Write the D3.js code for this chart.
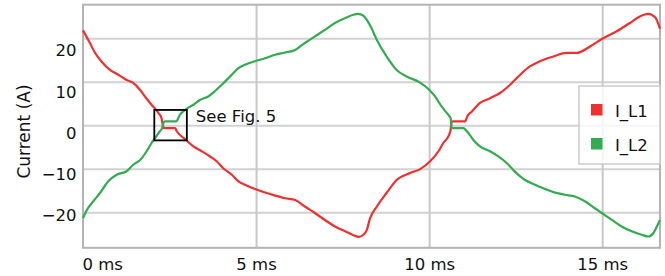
<!DOCTYPE html>
<html>
<head>
<meta charset="utf-8">
<script src="https://cdn.jsdelivr.net/npm/d3@7"></script>
<style>
  html, body { margin: 0; padding: 0; background: #fff; }
  svg { display: block; font-family: "DejaVu Sans", sans-serif; }
</style>
</head>
<body>
<div id="chart"></div>
<script>
// Phase currents over one period (time in ms, current in A)
const timeL1 = [0, 0.2, 0.35, 0.54, 0.78, 1.02, 1.26, 1.45, 1.65, 1.79, 1.98, 2.18, 2.27, 2.31, 2.34, 2.66, 2.71, 2.98, 3.19, 3.43, 3.67, 3.86, 4.05, 4.3, 4.49, 4.68, 4.97, 5.26, 5.55, 5.84, 6.13, 6.41, 6.7, 6.99, 7.28, 7.57, 7.81, 7.97, 8.1, 8.2, 8.29, 8.49, 8.77, 9.06, 9.45, 9.74, 10.03, 10.27, 10.41, 10.58, 10.62, 10.65, 10.69, 11.04, 11.1, 11.23, 11.47, 11.76, 12.05, 12.34, 12.63, 12.91, 13.2, 13.59, 13.98, 14.26, 14.65, 15.03, 15.42, 15.8, 16.09, 16.33, 16.53, 16.67];
const currentL1 = [21.8, 18.9, 16.6, 14.6, 12.7, 11.6, 10.4, 9.7, 8.1, 6.6, 4.7, 2.8, 1.6, -0.1, -0.7, -0.7, -1.4, -3.4, -4.9, -6.0, -7.2, -8.3, -9.9, -11.4, -12.9, -13.7, -14.7, -15.5, -16.2, -16.8, -17.2, -18.7, -20.2, -21.8, -23.3, -24.4, -25.3, -25.7, -25.2, -24.1, -21.5, -18.7, -15.6, -12.6, -11.0, -10.1, -8.3, -6.0, -4.1, -2.2, -1.1, 0.8, 0.85, 0.85, 2.0, 3.1, 5.1, 6.2, 7.4, 9.3, 11.6, 13.5, 14.7, 15.8, 16.6, 16.6, 18.1, 20.0, 21.6, 23.5, 25.0, 25.6, 24.8, 22.2];

const timeL2 = [0, 0.11, 0.3, 0.49, 0.73, 0.97, 1.26, 1.45, 1.65, 1.84, 1.98, 2.08, 2.22, 2.28, 2.33, 2.37, 2.69, 2.8, 2.98, 3.19, 3.38, 3.62, 3.81, 4.01, 4.2, 4.3, 4.49, 4.68, 4.97, 5.26, 5.55, 5.84, 6.13, 6.41, 6.7, 6.99, 7.28, 7.57, 7.81, 7.95, 8.1, 8.2, 8.34, 8.49, 8.77, 9.06, 9.35, 9.74, 9.98, 10.17, 10.36, 10.55, 10.62, 10.65, 10.7, 10.99, 11.09, 11.28, 11.47, 11.76, 12.0, 12.24, 12.43, 12.63, 12.77, 13.06, 13.35, 13.64, 13.93, 14.21, 14.5, 14.79, 14.99, 15.28, 15.56, 15.85, 16.14, 16.33, 16.48, 16.58, 16.67];
const currentL2 = [-21.4, -19.5, -17.5, -15.6, -12.9, -11.4, -10.6, -9.1, -8.0, -6.0, -4.1, -3.0, -1.4, -0.8, 0.55, 0.85, 0.85, 2.4, 3.7, 4.7, 5.8, 6.6, 7.8, 9.3, 10.8, 11.6, 13.1, 13.9, 14.7, 15.4, 16.2, 16.7, 17.3, 18.9, 20.4, 21.9, 23.5, 24.6, 25.4, 25.6, 25.2, 24.2, 22.2, 19.6, 15.8, 12.7, 11.2, 9.8, 8.3, 6.6, 4.3, 2.4, 1.6, -0.5, -0.7, -0.7, -1.4, -3.4, -4.9, -6.0, -7.2, -8.7, -10.3, -11.8, -12.6, -13.7, -14.7, -15.5, -16.0, -16.4, -17.5, -19.1, -20.2, -21.8, -23.3, -24.4, -25.2, -25.6, -24.8, -23.3, -21.8];

const seriesNames = ["I_L1", "I_L2"];
const seriesColours = ["#f0302f", "#33ab50"];

const xTicks = [0, 5, 10, 15];
const yTicks = [-20, -10, 0, 10, 20];

// Zoomed region marked on the plot (ms, A)
const boxTime = [2.06, 3.0];
const boxCurrent = [-3.5, 3.5];
const boxLabel = "See Fig. 5";

// Display options
const width = 665;
const height = 276;
const plot = { left: 83, right: 660, top: 4.7, bottom: 247.8 };
const fontSize = 16.5;

const series = seriesNames.map((name, i) => ({
  name,
  colour: seriesColours[i],
  values: (i === 0 ? timeL1 : timeL2).map((t, j) => ({
    t,
    v: (i === 0 ? currentL1 : currentL2)[j],
  })),
}));

// Scales
const xScale = d3.scaleLinear().domain([0, 16.67]).range([plot.left, plot.right]);
const yScale = d3.scaleLinear().domain([-28.2, 27.7]).range([plot.bottom, plot.top]);
// tick labels sit a little off the grid lines in the original figure
const yLabelScale = d3.scaleLinear().domain([-20, 20]).range([215.5, 50.5]);

const svg = d3
  .select("#chart")
  .append("svg")
  .attr("width", width)
  .attr("height", height)
  .attr("viewBox", [0, 0, width, height]);

// Grids
svg
  .append("g")
  .attr("transform", `translate(${plot.left}, 0)`)
  .call(d3.axisLeft(yScale).tickValues(yTicks).tickSize(plot.left - plot.right).tickFormat(""))
  .call((g) => g.select(".domain").remove())
  .call((g) => g.selectAll("line").attr("stroke", "#d2d2d2").attr("stroke-width", 2));

svg
  .append("g")
  .attr("transform", `translate(0, ${plot.bottom})`)
  .call(d3.axisBottom(xScale).tickValues(xTicks.slice(1)).tickSize(plot.top - plot.bottom).tickFormat(""))
  .call((g) => g.select(".domain").remove())
  .call((g) => g.selectAll("line").attr("stroke", "#c8c8c8").attr("stroke-width", 2));

// Plot frame
svg
  .append("rect")
  .attr("x", plot.left)
  .attr("y", plot.top)
  .attr("width", plot.right - plot.left)
  .attr("height", plot.bottom - plot.top)
  .attr("fill", "none")
  .attr("stroke", "#b4b4b4")
  .attr("stroke-width", 2);

// Tick labels
svg
  .append("g")
  .attr("transform", `translate(${plot.left}, 0)`)
  .call(d3.axisLeft(yLabelScale).tickValues(yTicks).tickSize(0).tickPadding(6.5))
  .call((g) => g.select(".domain").remove())
  .call((g) =>
    g.selectAll("text").attr("font-size", fontSize).attr("font-family", "DejaVu Sans").attr("fill", "#111")
  );

svg
  .append("g")
  .attr("transform", `translate(0, ${plot.bottom})`)
  .call(d3.axisBottom(xScale).tickValues(xTicks).tickSize(0).tickPadding(10).tickFormat((d) => `${d} ms`))
  .call((g) => g.select(".domain").remove())
  .call((g) =>
    g
      .selectAll("text")
      .attr("font-size", fontSize)
      .attr("font-family", "DejaVu Sans")
      .attr("fill", "#111")
      .attr("text-anchor", (d) => (d === 0 ? "start" : "middle"))
      .attr("dx", (d) => (d === 0 ? -1 : 0))
  );

// Axis title
svg
  .append("text")
  .attr("transform", `translate(24, 131.5) rotate(-90)`)
  .attr("text-anchor", "middle")
  .attr("dy", "0.35em")
  .attr("font-size", 17)
  .attr("fill", "#111")
  .text("Current (A)");

// Traces
const line = d3
  .line()
  .curve(d3.curveMonotoneX)
  .x((d) => xScale(d.t))
  .y((d) => yScale(d.v));

svg
  .append("g")
  .selectAll("path")
  .data(series)
  .enter()
  .append("path")
  .attr("d", (d) => line(d.values))
  .attr("fill", "none")
  .attr("stroke", (d) => d.colour)
  .attr("stroke-width", 2.2)
  .attr("stroke-linejoin", "round");

// Annotation box
svg
  .append("rect")
  .attr("x", xScale(boxTime[0]))
  .attr("y", yScale(boxCurrent[1]))
  .attr("width", xScale(boxTime[1]) - xScale(boxTime[0]))
  .attr("height", yScale(boxCurrent[0]) - yScale(boxCurrent[1]))
  .attr("fill", "none")
  .attr("stroke", "#000")
  .attr("stroke-width", 1.8);

svg
  .append("text")
  .attr("x", xScale(boxTime[1]) + 9)
  .attr("y", 121.7)
  .attr("font-size", fontSize)
  .attr("fill", "#111")
  .text(boxLabel);

// Legend
const legend = svg.append("g").attr("transform", "translate(579, 86)");

legend
  .append("rect")
  .attr("width", plot.right - 579)
  .attr("height", 78)
  .attr("fill", "#fff")
  .attr("fill-opacity", 0.8)
  .attr("stroke", "#cccccc")
  .attr("stroke-width", 1.5);

const legendItems = legend
  .selectAll(".item")
  .data(series)
  .enter()
  .append("g")
  .attr("class", "item")
  .attr("transform", (d, i) => `translate(12, ${18 + i * 34})`);

legendItems
  .append("rect")
  .attr("width", 11.5)
  .attr("height", 11.5)
  .attr("fill", (d) => d.colour);

legendItems
  .append("text")
  .attr("x", 24)
  .attr("y", 12.5)
  .attr("font-size", fontSize)
  .attr("fill", "#111")
  .text((d) => d.name);
</script>
</body>
</html>
